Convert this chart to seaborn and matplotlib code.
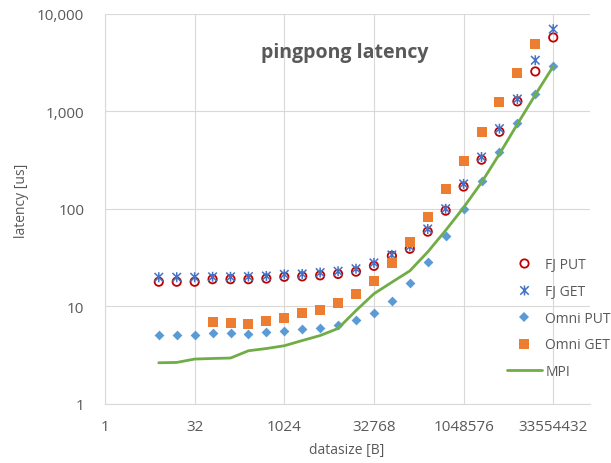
import numpy as np
import pandas as pd
import matplotlib
matplotlib.use("Agg")
import matplotlib.pyplot as plt
from matplotlib.path import Path
from matplotlib.lines import Line2D
from matplotlib.ticker import FixedLocator, FixedFormatter, NullLocator
import seaborn as sns

# message sizes in bytes
datasize = [8, 16, 32, 64, 128, 256, 512, 1024, 2048, 4096, 8192, 16384,
            32768, 65536, 131072, 262144, 524288, 1048576, 2097152,
            4194304, 8388608, 16777216, 33554432]

# round-trip latency in microseconds
fj_put = [17.8, 17.8, 17.8, 18.9, 18.9, 18.9, 19.2, 20.0, 20.2, 20.7, 21.4,
          22.6, 25.9, 32.8, 38.8, 58.2, 95.5, 169, 319, 617, 1266, 2570, 5740]
fj_get = [19.8, 19.8, 19.8, 20.0, 20.0, 20.1, 20.4, 21.2, 21.4, 22.1, 22.8,
          24.2, 27.8, 33.6, 41.0, 62.0, 100, 180, 340, 665, 1340, 3350, 6980]
omni_put = [5.1, 5.1, 5.1, 5.3, 5.3, 5.2, 5.4, 5.55, 5.85, 6.0, 6.4, 7.2,
            8.6, 11.3, 17.3, 28.7, 52, 99, 193, 379, 753, 1500, 2940]
omni_get = [np.nan, np.nan, np.nan, 6.85, 6.75, 6.6, 7.06, 7.55, 8.5, 9.2,
            10.8, 13.3, 18.1, 27.6, 45.3, 81.8, 160, 309, 615, 1237, 2470,
            4900, np.nan]
mpi = [2.62, 2.64, 2.86, 2.90, 2.93, 3.48, 3.67, 3.92, 4.43, 4.99, 5.9, 9.0,
       13.4, 17.6, 23.0, 36.0, 60, 103, 186, 365, 740, 1480, 2900]

series_names = ["FJ PUT", "FJ GET", "Omni PUT", "Omni GET", "MPI"]
x_ticks = [1, 32, 1024, 32768, 1048576, 33554432]
x_tick_labels = ["1", "32", "1024", "32768", "1048576", "33554432"]
y_ticks = [1, 10, 100, 1000, 10000]
y_tick_labels = ["1", "10", "100", "1,000", "10,000"]

df = pd.DataFrame({"datasize": datasize, "FJ PUT": fj_put, "FJ GET": fj_get,
                   "Omni PUT": omni_put, "Omni GET": omni_get, "MPI": mpi})

sns.set_theme(style="white")
plt.rcParams["font.family"] = ["Open Sans", "DejaVu Sans"]

TEXT = "#595959"
GRID = "#D9D9D9"
C_RED = "#C00000"
C_BLUE = "#4472C4"
C_LBLUE = "#5B9BD5"
C_ORANGE = "#ED7D31"
C_GREEN = "#70AD47"

# asterisk marker: an X crossed by a vertical bar
star = Path([(-0.85, -0.85), (0.85, 0.85), (-0.85, 0.85), (0.85, -0.85),
             (0, -1), (0, 1)],
            [Path.MOVETO, Path.LINETO, Path.MOVETO, Path.LINETO,
             Path.MOVETO, Path.LINETO])

W, H = 611, 464
fig = plt.figure(figsize=(W / 100, H / 100), dpi=100)
left, right, top, bottom = 105, 590, 15, 404.5
ax = fig.add_axes([left / W, 1 - bottom / H, (right - left) / W, (bottom - top) / H])

sns.scatterplot(data=df, x="datasize", y="FJ PUT", ax=ax, marker="o", s=36,
                facecolor="none", edgecolor=C_RED, linewidth=1.3, zorder=3,
                legend=False)
sns.scatterplot(data=df, x="datasize", y="FJ GET", ax=ax, marker=star, s=52,
                facecolor="none", edgecolor=C_BLUE, linewidth=1.1, zorder=4,
                legend=False)
sns.scatterplot(data=df, x="datasize", y="Omni PUT", ax=ax, marker="D", s=25,
                color=C_LBLUE, linewidth=0, zorder=5, legend=False)
sns.scatterplot(data=df, x="datasize", y="Omni GET", ax=ax, marker="s", s=44,
                color=C_ORANGE, linewidth=0, zorder=6, legend=False)
sns.lineplot(data=df, x="datasize", y="MPI", ax=ax, color=C_GREEN,
             linewidth=2.0, errorbar=None, zorder=7, legend=False)

ax.set_xscale("log", base=2)
ax.set_yscale("log")
ax.set_xlim(1, 2 ** 27.05)
ax.set_ylim(1, 10000)
ax.xaxis.set_major_locator(FixedLocator(x_ticks))
ax.xaxis.set_major_formatter(FixedFormatter(x_tick_labels))
ax.xaxis.set_minor_locator(NullLocator())
ax.yaxis.set_major_locator(FixedLocator(y_ticks))
ax.yaxis.set_major_formatter(FixedFormatter(y_tick_labels))
ax.yaxis.set_minor_locator(NullLocator())

ax.grid(True, color=GRID, linewidth=0.8)
ax.set_axisbelow(True)
for side in ["top", "right"]:
    ax.spines[side].set_visible(False)
for side in ["left", "bottom"]:
    ax.spines[side].set_color(GRID)
    ax.spines[side].set_linewidth(0.8)

ax.tick_params(axis="x", length=0, pad=11.5, labelsize=11, labelcolor=TEXT)
ax.tick_params(axis="y", length=0, pad=15, labelsize=11, labelcolor=TEXT)
ax.set_xlabel("")
ax.set_ylabel("")

fig.text(347 / W, 1 - 451 / H, "datasize [B]", ha="center", va="center",
         fontsize=10, color=TEXT)
fig.text(21.5 / W, 1 - 201 / H, "latency [us]", ha="center", va="center",
         rotation=90, fontsize=10, color=TEXT)
fig.text(345 / W, 1 - 53 / H, "pingpong latency", ha="center", va="center",
         fontsize=14, fontweight="bold", color=TEXT)

handles = [
    Line2D([], [], ls="", marker="o", ms=6, mfc="none", mec=C_RED, mew=1.3),
    Line2D([], [], ls="", marker=star, ms=7.2, mfc="none", mec=C_BLUE, mew=1.1),
    Line2D([], [], ls="", marker="D", ms=5, mfc=C_LBLUE, mec=C_LBLUE, mew=0),
    Line2D([], [], ls="", marker="s", ms=6.6, mfc=C_ORANGE, mec=C_ORANGE, mew=0),
    Line2D([], [], color=C_GREEN, lw=2.0),
]
leg = fig.legend(handles, series_names, loc="upper left",
                 bbox_to_anchor=(507 / W, 1 - 258 / H), frameon=False,
                 fontsize=10, handlelength=2.5, handletextpad=0.25,
                 labelspacing=0.85, borderpad=0, borderaxespad=0)
for t in leg.get_texts():
    t.set_color(TEXT)

fig.savefig("out.png", dpi=100)
